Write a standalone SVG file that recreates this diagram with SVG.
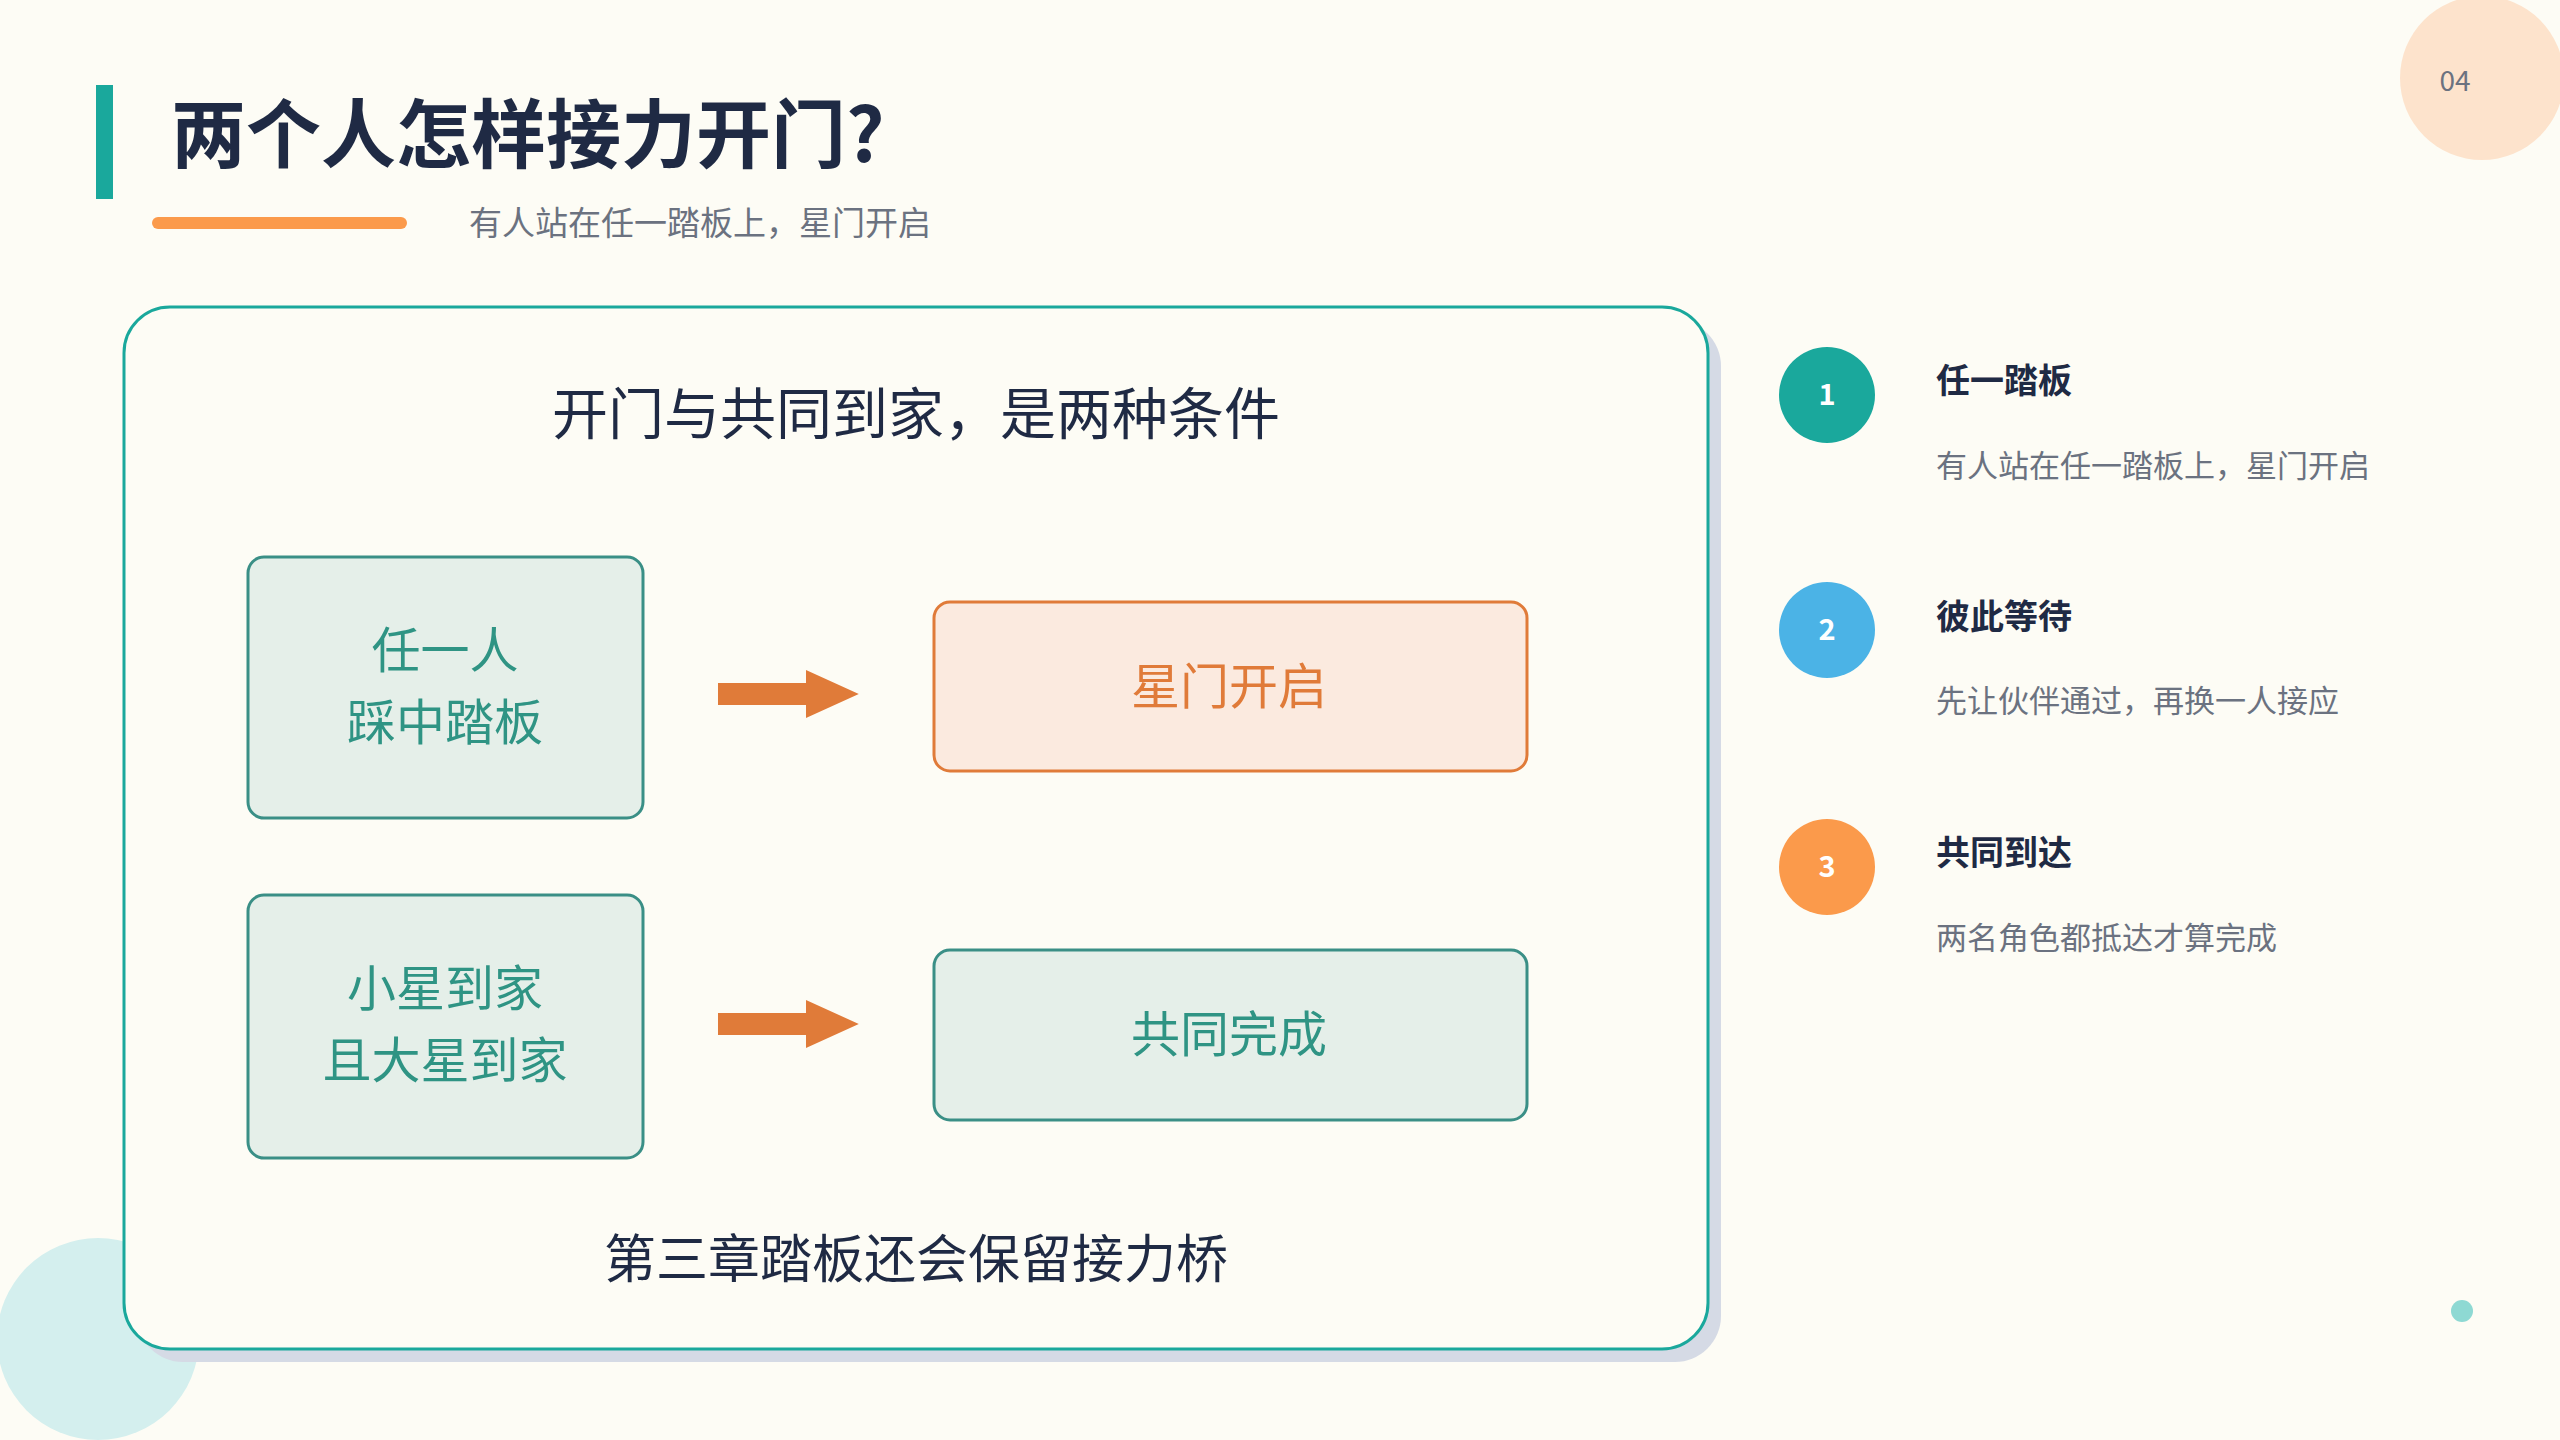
<svg xmlns="http://www.w3.org/2000/svg" width="2560" height="1440" viewBox="0 0 2560 1440">
<style>
text{font-family:"Noto Sans CJK SC","Noto Sans",sans-serif}
.t{fill:#1f2a44}
.g{fill:#6b7280}
.box{fill:#e5efe9;stroke:#3a8f86;stroke-width:3}
.bt{fill:#2f9484;font-size:49px;text-anchor:middle}
.it{font-size:34px;font-weight:bold;fill:#1f2a44}
.id{font-size:31px;fill:#6b7280}
.num{font-size:29px;font-weight:bold;fill:#fff;text-anchor:middle}
</style>
<defs>
<path id="arr" d="M0,-11 H50 V-24 L80,0 L50,24 V11 H0 Z"/>
</defs>
<rect width="2560" height="1440" fill="#fdfcf5"/>
<circle cx="2482" cy="78" r="82" fill="#fde3cc"/>
<text x="2455" y="91" font-size="28" class="g" text-anchor="middle">04</text>
<circle cx="98" cy="1339" r="101" fill="#d4efee"/>
<circle cx="2462" cy="1311" r="11" fill="#8ed9d3"/>
<rect x="96" y="85" width="17" height="114" fill="#1aa89c"/>
<text x="171" y="162" font-size="75" font-weight="bold" class="t">两个人怎样接力开门?</text>
<rect x="152" y="217" width="255" height="12" rx="6" fill="#fb9a4b"/>
<text x="469" y="235" font-size="33" class="g">有人站在任一踏板上，星门开启</text>
<rect x="137" y="320" width="1584" height="1042" rx="46" fill="#d5dae5"/>
<g id="card">
<rect x="124" y="307" width="1584" height="1042" rx="46" fill="#fdfcf5" stroke="#1aa89c" stroke-width="3"/>
<text x="916" y="434" font-size="56" class="t" text-anchor="middle">开门与共同到家，是两种条件</text>
<text x="916" y="1278" font-size="52" class="t" text-anchor="middle">第三章踏板还会保留接力桥</text>
</g>
<g id="n1"><rect class="box" x="248" y="557" width="395" height="261" rx="16"/>
<text class="bt" x="445" y="668">任一人</text><text class="bt" x="445" y="740">踩中踏板</text></g>
<g id="n2"><rect x="934" y="602" width="593" height="169" rx="16" fill="#fbeadf" stroke="#e07b39" stroke-width="3"/>
<text class="bt" x="1229" y="704" fill="#e07b39" style="fill:#e07b39">星门开启</text></g>
<g id="n3"><rect class="box" x="248" y="895" width="395" height="263" rx="16"/>
<text class="bt" x="445" y="1006">小星到家</text><text class="bt" x="445" y="1078">且大星到家</text></g>
<g id="n4"><rect class="box" x="934" y="950" width="593" height="170" rx="16"/>
<text class="bt" x="1229" y="1052">共同完成</text></g>
<g id="connectors" fill="#e07b39">
<use href="#arr" x="718" y="694" transform="translate(718,694) scale(1.76,1) translate(-718,-694)"/>
<use href="#arr" x="718" y="1024" transform="translate(718,1024) scale(1.76,1) translate(-718,-1024)"/>
</g>
<g id="i1"><circle cx="1827" cy="395" r="48" fill="#1aa89c"/><text class="num" x="1827" y="405">1</text>
<text class="it" x="1936" y="393">任一踏板</text><text class="id" x="1936" y="477">有人站在任一踏板上，星门开启</text></g>
<g id="i2"><circle cx="1827" cy="630" r="48" fill="#4bb3e6"/><text class="num" x="1827" y="640">2</text>
<text class="it" x="1936" y="629">彼此等待</text><text class="id" x="1936" y="712">先让伙伴通过，再换一人接应</text></g>
<g id="i3"><circle cx="1827" cy="867" r="48" fill="#fb9a4b"/><text class="num" x="1827" y="877">3</text>
<text class="it" x="1936" y="865">共同到达</text><text class="id" x="1936" y="949">两名角色都抵达才算完成</text></g>
</svg>
